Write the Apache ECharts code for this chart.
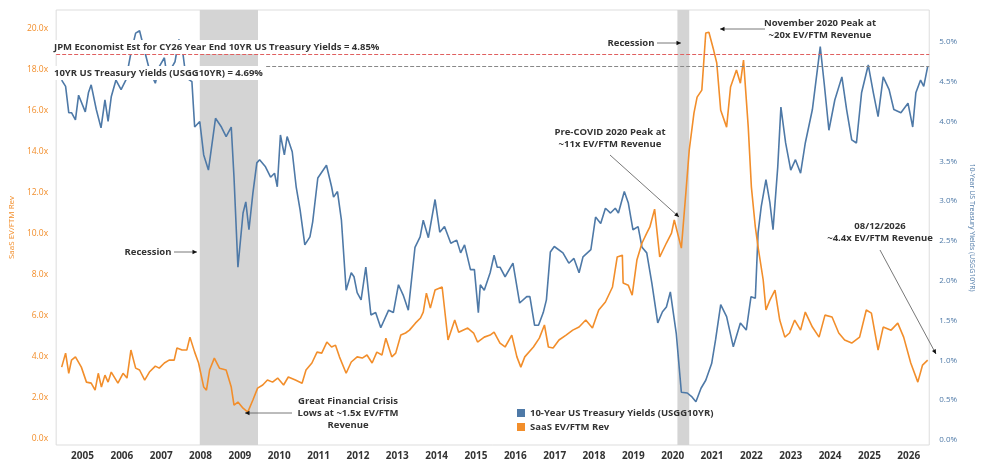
<!DOCTYPE html>
<html><head>
<meta charset="UTF-8">
<title>SaaS EV/FTM Rev vs 10YR Yields</title>
<script src="https://cdn.jsdelivr.net/npm/echarts@6/dist/echarts.min.js"></script>
<style>html,body{margin:0;padding:0;background:#fff;}#main{width:983px;height:464px;}</style>
</head>
<body>
<div id="main"></div>
<script>
// year labels
var years = [2005,2006,2007,2008,2009,2010,2011,2012,2013,2014,2015,2016,2017,2018,2019,2020,2021,2022,2023,2024,2025,2026];
var leftTicks = [0,2,4,6,8,10,12,14,16,18,20];
var rightTicks = [0,0.5,1,1.5,2,2.5,3,3.5,4,4.5,5];
// 10-Year US Treasury yields (%), decimal year
var yieldX = [2004.47,2004.57,2004.65,2004.72,2004.82,2004.9,2005.07,2005.15,2005.22,2005.35,2005.47,2005.57,2005.65,2005.73,2005.85,2005.98,2006.1,2006.23,2006.35,2006.45,2006.57,2006.7,2006.85,2006.95,2007.08,2007.15,2007.28,2007.35,2007.45,2007.55,2007.63,2007.78,2007.85,2007.98,2008.08,2008.2,2008.38,2008.53,2008.65,2008.78,2008.85,2008.95,2009.08,2009.15,2009.23,2009.33,2009.43,2009.5,2009.65,2009.78,2009.88,2009.95,2010.03,2010.13,2010.2,2010.33,2010.43,2010.53,2010.65,2010.78,2010.85,2010.98,2011.2,2011.33,2011.38,2011.48,2011.58,2011.7,2011.83,2011.9,2011.98,2012.08,2012.2,2012.33,2012.45,2012.58,2012.78,2012.9,2013.03,2013.15,2013.28,2013.45,2013.58,2013.66,2013.79,2013.96,2014.08,2014.2,2014.36,2014.51,2014.61,2014.71,2014.86,2014.96,2015.06,2015.11,2015.21,2015.36,2015.46,2015.54,2015.61,2015.74,2015.94,2016.11,2016.29,2016.37,2016.49,2016.59,2016.71,2016.79,2016.89,2016.99,2017.21,2017.36,2017.49,2017.62,2017.72,2017.92,2018.04,2018.17,2018.29,2018.42,2018.54,2018.62,2018.77,2018.87,2018.99,2019.12,2019.22,2019.34,2019.47,2019.62,2019.74,2019.84,2019.94,2020.09,2020.22,2020.37,2020.49,2020.59,2020.72,2020.84,2020.99,2021.09,2021.22,2021.37,2021.54,2021.72,2021.87,2021.99,2022.1,2022.17,2022.25,2022.37,2022.47,2022.55,2022.67,2022.75,2022.87,2023.0,2023.12,2023.25,2023.37,2023.55,2023.75,2023.85,2023.97,2024.12,2024.3,2024.42,2024.55,2024.67,2024.8,2024.97,2025.1,2025.22,2025.35,2025.5,2025.62,2025.8,2025.98,2026.1,2026.18,2026.3,2026.38,2026.48];
var yieldY = [4.52,4.44,4.11,4.11,4.02,4.33,4.12,4.36,4.46,4.15,3.92,4.27,4.0,4.31,4.52,4.40,4.52,4.86,5.11,5.14,4.9,4.65,4.48,4.69,4.8,4.56,4.69,4.75,5.03,4.86,4.55,4.5,3.93,4.0,3.58,3.39,4.04,3.93,3.81,3.93,3.3,2.17,2.85,2.99,2.64,3.1,3.48,3.52,3.43,3.3,3.35,3.18,3.83,3.58,3.81,3.62,3.18,2.89,2.45,2.55,2.74,3.29,3.45,3.18,3.05,3.12,2.76,1.88,2.1,2.05,1.85,1.76,2.17,1.57,1.6,1.41,1.63,1.6,1.95,1.82,1.63,2.42,2.55,2.76,2.54,3.02,2.61,2.68,2.47,2.51,2.35,2.45,2.14,2.14,1.6,1.95,1.88,2.1,2.32,2.17,2.17,2.05,2.22,1.72,1.8,1.8,1.44,1.44,1.6,1.76,2.36,2.43,2.35,2.22,2.28,2.1,2.3,2.39,2.8,2.72,2.91,2.85,2.91,2.85,3.12,2.98,2.64,2.68,2.42,2.35,1.97,1.47,1.61,1.67,1.86,1.34,0.6,0.59,0.54,0.48,0.65,0.75,0.96,1.26,1.7,1.55,1.17,1.47,1.38,1.8,1.78,2.6,2.93,3.27,2.98,2.64,3.43,4.18,3.73,3.39,3.52,3.35,3.73,4.15,4.94,4.48,3.89,4.27,4.56,4.15,3.77,3.73,4.36,4.71,4.36,4.06,4.56,4.4,4.15,4.11,4.23,3.93,4.36,4.52,4.44,4.69];
// SaaS EV / FTM revenue multiple (x)
var saasX = [2004.47,2004.57,2004.65,2004.72,2004.82,2004.97,2005.1,2005.22,2005.32,2005.4,2005.48,2005.57,2005.65,2005.73,2005.9,2006.03,2006.13,2006.23,2006.35,2006.45,2006.58,2006.7,2006.85,2006.95,2007.08,2007.2,2007.33,2007.4,2007.53,2007.65,2007.73,2007.85,2007.95,2008.08,2008.15,2008.23,2008.35,2008.48,2008.65,2008.78,2008.85,2008.95,2009.08,2009.2,2009.33,2009.45,2009.58,2009.7,2009.83,2009.96,2010.11,2010.23,2010.41,2010.58,2010.68,2010.83,2010.96,2011.08,2011.21,2011.33,2011.43,2011.53,2011.7,2011.83,2011.98,2012.11,2012.23,2012.36,2012.48,2012.61,2012.71,2012.86,2012.96,2013.09,2013.21,2013.31,2013.46,2013.59,2013.66,2013.74,2013.84,2013.96,2014.14,2014.29,2014.46,2014.56,2014.79,2014.94,2015.04,2015.21,2015.36,2015.46,2015.61,2015.74,2015.91,2016.04,2016.14,2016.24,2016.46,2016.61,2016.74,2016.84,2016.96,2017.11,2017.29,2017.46,2017.62,2017.79,2017.96,2018.12,2018.29,2018.47,2018.59,2018.72,2018.74,2018.87,2018.97,2019.09,2019.22,2019.34,2019.42,2019.54,2019.67,2019.84,2019.97,2020.04,2020.22,2020.34,2020.42,2020.54,2020.62,2020.74,2020.84,2020.92,2021.04,2021.12,2021.22,2021.37,2021.47,2021.62,2021.72,2021.8,2021.92,2022.0,2022.1,2022.17,2022.3,2022.37,2022.47,2022.6,2022.72,2022.85,2022.97,2023.1,2023.25,2023.37,2023.55,2023.72,2023.87,2024.05,2024.22,2024.37,2024.55,2024.75,2024.92,2025.05,2025.22,2025.35,2025.55,2025.72,2025.87,2026.05,2026.23,2026.35,2026.48];
var saasY = [3.5,4.18,3.2,3.84,4.0,3.5,2.77,2.72,2.38,3.2,2.53,3.11,2.77,3.26,2.72,3.2,2.97,4.33,3.45,3.36,2.87,3.26,3.55,3.45,3.7,3.84,3.84,4.43,4.33,4.33,4.96,4.23,3.7,2.53,2.38,3.36,3.94,3.45,3.36,2.53,1.65,1.8,1.5,1.31,1.9,2.48,2.63,2.87,2.77,2.97,2.63,3.02,2.87,2.72,3.36,3.7,4.23,4.18,4.72,4.48,4.57,4.0,3.2,3.75,4.0,3.94,4.09,3.7,4.23,4.09,4.91,4.0,4.18,5.06,5.16,5.3,5.64,5.89,6.18,7.1,6.37,7.25,7.4,4.82,5.79,5.2,5.4,5.16,4.72,4.96,5.06,5.2,4.67,4.48,5.06,4.0,3.5,4.0,4.48,4.91,5.55,4.48,4.43,4.82,5.06,5.3,5.45,5.79,5.4,6.28,6.67,7.4,8.86,8.95,7.59,7.49,7.0,8.71,9.54,10.02,10.32,11.19,8.86,9.54,10.02,10.66,9.29,12.12,14.06,15.86,16.64,16.98,19.76,19.8,18.93,18.3,16.0,15.18,17.13,17.96,17.32,18.44,15.18,12.26,10.32,9.34,7.74,6.28,6.76,7.25,5.79,4.96,5.16,5.79,5.3,6.18,5.45,4.96,6.03,5.94,5.16,4.82,4.67,4.96,6.28,6.13,4.33,5.45,5.3,5.64,4.96,3.7,2.77,3.6,3.84];
var recessions = [[2007.98, 2009.46], [2020.12, 2020.42]];
var jpmEst = 4.85, curYield = 4.69;

var BLUE = '#4e79a7', ORANGE = '#f28e2b', TXT = '#333';
function pairs(xs, ys){ return xs.map(function(x,i){ return [x, ys[i]]; }); }

var chart = echarts.init(document.getElementById('main'));
var bold = {fontFamily:'Open Sans', fontSize:9.5, fontWeight:'bold', fill:TXT};
function txt(x, y, s, align, bg){
  var st = Object.assign({text:s, textAlign:align||'center', textVerticalAlign:'middle', lineHeight:12}, bold);
  if (bg) { st.backgroundColor = '#fff'; st.padding = [1,2]; }
  return {type:'text', x:x, y:y, style:st, z:100};
}
function arrow(x1,y1,x2,y2){
  var a = Math.atan2(y2-y1, x2-x1), L = 5;
  return [
    {type:'line', shape:{x1:x1,y1:y1,x2:x2,y2:y2}, style:{stroke:'#555',lineWidth:0.8}, z:100},
    {type:'polygon', shape:{points:[[x2,y2],[x2-L*Math.cos(a-0.45),y2-L*Math.sin(a-0.45)],[x2-L*Math.cos(a+0.45),y2-L*Math.sin(a+0.45)]]}, style:{fill:'#111'}, z:100}
  ];
}
var graphics = [
  txt(52, 47, 'JPM Economist Est for CY26 Year End 10YR US Treasury Yields = 4.85%', 'left', true),
  txt(52, 73, '10YR US Treasury Yields (USGG10YR) = 4.69%', 'left', true),
  txt(148, 252, 'Recession'),
  txt(348, 413, 'Great Financial Crisis\nLows at ~1.5x EV/FTM\nRevenue'),
  txt(631, 43, 'Recession'),
  txt(820, 29, 'November 2020 Peak at\n~20x EV/FTM Revenue'),
  txt(610, 138, 'Pre-COVID 2020 Peak at\n~11x EV/FTM Revenue'),
  txt(880, 232, '08/12/2026\n~4.4x EV/FTM Revenue')
].concat(arrow(174,252,197,252), arrow(292,413,245,413), arrow(657,43,681,43),
  arrow(765,29,720,29), arrow(610,155,679,217), arrow(880,250,936,354));

chart.setOption({
  animation:false,
  grid:{left:52, right:44, top:10, bottom:19, show:true, borderColor:'#ddd', borderWidth:1},
  legend:{left:512, top:403, orient:'vertical', itemWidth:8, itemHeight:8, itemGap:4, icon:'rect',
    textStyle:{fontFamily:'Open Sans', fontSize:9.5, fontWeight:'bold', color:TXT},
    data:['10-Year US Treasury Yields (USGG10YR)','SaaS EV/FTM Rev']},
  xAxis:{type:'value', min:2004.33, max:2026.52,
    axisLine:{show:false}, splitLine:{show:false}, axisTick:{show:false},
    axisLabel:{customValues:years, formatter:function(v){return String(v);}, margin:6,
      fontFamily:'Open Sans', fontSize:10, fontWeight:'bold', color:TXT}},
  yAxis:[
    {type:'value', min:-0.29, max:20.88, position:'left',
      name:'SaaS EV/FTM Rev', nameLocation:'middle', nameGap:34,
      nameTextStyle:{color:ORANGE, fontFamily:'Open Sans', fontSize:8},
      axisLine:{show:false}, axisTick:{show:false}, splitLine:{show:false},
      axisLabel:{customValues:leftTicks, formatter:function(v){return v.toFixed(1)+'x';},
        color:ORANGE, fontFamily:'Open Sans', fontSize:8.5}},
    {type:'value', min:-0.063, max:5.40, position:'right',
      name:'10-Year US Treasury Yields (USGG10YR)', nameLocation:'middle', nameGap:33, nameRotate:-90,
      nameTextStyle:{color:BLUE, fontFamily:'Open Sans', fontSize:7},
      axisLine:{show:false}, axisTick:{show:false}, splitLine:{show:false},
      axisLabel:{customValues:rightTicks, formatter:function(v){return v.toFixed(1)+'%';},
        color:BLUE, fontFamily:'Open Sans', fontSize:8, margin:10}}
  ],
  series:[
    {name:'10-Year US Treasury Yields (USGG10YR)', type:'line', yAxisIndex:1, data:pairs(yieldX, yieldY),
      showSymbol:false, lineStyle:{color:BLUE, width:1.6}, itemStyle:{color:BLUE}, z:3,
      markArea:{silent:true, itemStyle:{color:'#d4d4d4'}, z:1,
        data:recessions.map(function(r){return [{xAxis:r[0]},{xAxis:r[1]}];})},
      markLine:{silent:true, symbol:'none', label:{show:false},
        data:[{yAxis:jpmEst, lineStyle:{color:'#e06060', type:'dashed', width:1}},
              {yAxis:curYield, lineStyle:{color:'#888', type:'dashed', width:1}}]}},
    {name:'SaaS EV/FTM Rev', type:'line', yAxisIndex:0, data:pairs(saasX, saasY),
      showSymbol:false, lineStyle:{color:ORANGE, width:1.6}, itemStyle:{color:ORANGE}, z:4}
  ],
  graphic:graphics
});
</script>
</body>
</html>
